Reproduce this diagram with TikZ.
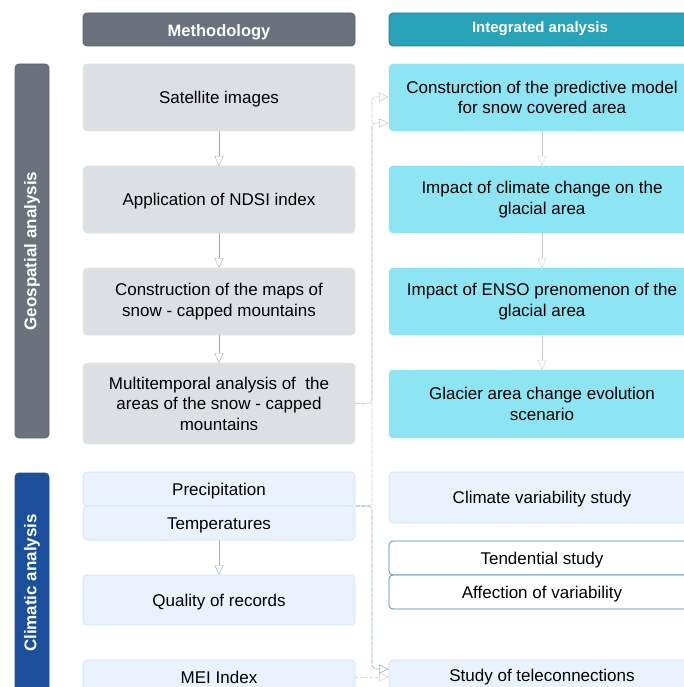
\documentclass[tikz,border=0pt]{standalone}
\usepackage{fontspec}
\setmainfont{Liberation Sans}
\usetikzlibrary{arrows.meta}
\definecolor{hdrgray}{HTML}{6B717D}
\definecolor{hdrteal}{HTML}{29A3B9}
\definecolor{boxgray}{HTML}{DCDFE4}
\definecolor{boxgrayline}{HTML}{E6E7DF}
\definecolor{boxcyan}{HTML}{8DE5F4}
\definecolor{boxlight}{HTML}{EAF3FD}
\definecolor{boxlightline}{HTML}{CFE1F2}
\definecolor{tendline}{HTML}{3F80B6}
\definecolor{climblue}{HTML}{1B4F9C}
\definecolor{connline}{HTML}{CCCCCC}
\definecolor{arrgray}{HTML}{A8A8A8}
\definecolor{arrblue}{HTML}{8DB4D6}
\newcommand{\lowr}[2]{\raisebox{-#1}[\height][\depth]{#2}}
\tikzset{
  base/.style={rounded corners=4pt, outer sep=0pt, inner sep=2pt, align=center,
    font=\fontsize{17}{20.5}\selectfont, text=black},
  gbox/.style={base, fill=boxgray, draw=boxgrayline, minimum width=272, line width=0.6pt},
  cbox/.style={base, fill=boxcyan, draw=boxcyan, minimum width=306},
  lbox/.style={base, fill=boxlight, draw=boxlightline, minimum width=272, line width=0.6pt},
  rlbox/.style={base, fill=boxlight, draw=boxlightline, minimum width=306, line width=0.6pt},
  wbox/.style={base, fill=white, draw=tendline, minimum width=306, line width=0.7pt},
  hdr/.style={rounded corners=4pt, outer sep=0pt, text=white, minimum height=33, line width=0.8pt},
  side/.style={rounded corners=4pt, outer sep=0pt, minimum width=34, line width=0.8pt},
  flow/.style={draw=arrgray, line width=0.4pt, -{Triangle[open, length=10pt, width=9pt]}},
  conn/.style={draw=connline, line width=0.6pt, dash pattern=on 5pt off 1pt, rounded corners=4pt,
    -{Triangle[open, length=10pt, width=9pt]}},
}
\begin{document}
\begin{tikzpicture}[x=1pt,y=-1pt]
\useasboundingbox (0,0) rectangle (684,687);
\fill[white] (0,0) rectangle (684,687);
\begin{scope}
\clip (0,0) rectangle (684,687);
% headers
\node[hdr, fill=hdrgray, draw=hdrgray!85!black, minimum width=272, font=\fontsize{16.5}{18}\selectfont\bfseries] (meth) at (219,29.5) {\lowr{3pt}{Methodology}};
\node[hdr, fill=hdrteal, draw=hdrteal!75!black, minimum width=306, font=\fontsize{15}{18}\selectfont\bfseries, anchor=west] (integ) at (389,29.5) {\hspace*{-4pt}\lowr{-0.5pt}{Integrated analysis}};
% side bars
\node[side, fill=hdrgray, draw=hdrgray!90!black, minimum height=374] (geo) at (32,251) {};
\node[rotate=90, text=white, font=\fontsize{17}{20}\selectfont\bfseries] (geotxt) at (32,251) {Geospatial analysis};
\node[side, fill=climblue, draw=climblue, minimum height=240] (clim) at (32,593) {};
\node[rotate=90, text=white, font=\fontsize{17}{20}\selectfont\bfseries] (climtxt) at (32,583) {Climatic analysis};
% left geospatial column
\node[gbox, minimum height=67] (sat) at (219,97.5) {\lowr{2pt}{Satellite images}};
\node[gbox, minimum height=67] (ndsi) at (219,199.5) {\lowr{2pt}{Application of NDSI index}};
\node[gbox, minimum height=67] (maps) at (219,301.5) {Construction of the maps of\\snow - capped mountains};
\node[gbox, minimum height=81] (multi) at (219,403.5) {Multitemporal analysis of\ \ the\\areas of the snow - capped\\mountains};
% right geospatial column
\node[cbox, minimum height=67] (pred) at (542,97.5) {Consturction of the predictive model\\for snow covered area};
\node[cbox, minimum height=67] (clch) at (542,199.5) {Impact of climate change on the\\glacial area};
\node[cbox, minimum height=67] (enso) at (542,301.5) {Impact of ENSO prenomenon of the\\glacial area};
\node[cbox, minimum height=68] (scen) at (542,404) {Glacier area change evolution\\scenario};
% climatic left column
\node[lbox, minimum height=34] (prec) at (219,489) {\lowr{2pt}{Precipitation}};
\node[lbox, minimum height=34] (temp) at (219,523) {\lowr{2pt}{Temperatures}};
\node[lbox, minimum height=50] (qual) at (219,600) {\lowr{2pt}{Quality of records}};
\node[lbox, minimum height=34] (mei) at (219,677) {MEI Index};
% climatic right column
\node[rlbox, minimum height=51] (cvar) at (542,497.5) {\lowr{2pt}{Climate variability study}};
\node[wbox, minimum height=34] (tend) at (542,558) {\lowr{2pt}{Tendential study}};
\node[wbox, minimum height=34] (affe) at (542,592) {\lowr{2pt}{Affection of variability}};
\node[rlbox, minimum height=34] (tele) at (542,677) {Study of teleconnections};
% flow arrows
\draw[flow] (sat) -- (ndsi);
\draw[flow] (ndsi) -- (maps);
\draw[flow] (maps) -- (multi);
\draw[flow, draw=connline] (pred) -- (clch);
\draw[flow, draw=connline] (clch) -- (enso);
\draw[flow, draw=connline] (enso) -- (scen);
\draw[flow, draw=arrblue] (temp) -- (qual);
% connectors
\draw[conn] (multi.east) -- ++(17,0) |- ([yshift=0.5pt]pred.west);
\draw[conn] (temp.north east) -- ++(17,0) |- ([yshift=-25.5pt]pred.west);
\draw[conn, draw=arrblue] (temp.north east) -- ++(17,0) |- ([yshift=8pt]tele.west);
\draw[conn, draw=orange!35, dash pattern=on 3pt off 2pt] (mei.east) -- (tele.west);
\end{scope}
\end{tikzpicture}
\end{document}
